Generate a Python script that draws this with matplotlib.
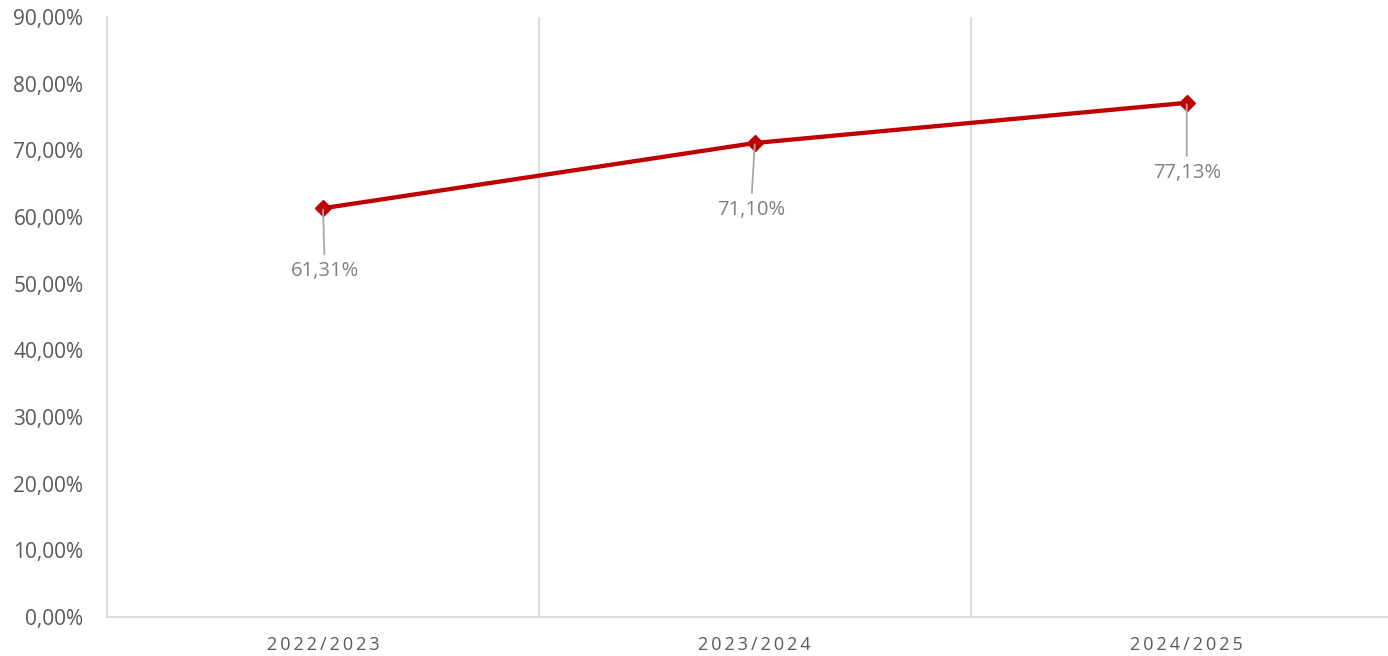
import matplotlib.pyplot as plt
from matplotlib.ticker import FuncFormatter

plt.rcParams['font.family'] = ['Open Sans', 'DejaVu Sans']

years = ['2022/2023', '2023/2024', '2024/2025']
rates = [61.31, 71.10, 77.13]
label_dx = [2, -4, 0]  # pixel nudges for data labels
label_dy = [-63, -67, -70]

fig = plt.figure(figsize=(13.88, 6.56), dpi=100)
ax = fig.add_axes([107 / 1388, 39 / 656, 1 - 107 / 1388, 600 / 656])

x = list(range(len(years)))
ax.plot(x, rates, color='#c00000', lw=3.1, marker='D', ms=8.5, zorder=3)

for i, v in enumerate(rates):
    txt = f'{v:.2f}'.replace('.', ',') + '%'
    ax.annotate(txt, xy=(i, v), xytext=(label_dx[i], label_dy[i]), textcoords='offset pixels',
                ha='center', va='center', fontsize=14.5, color='#808080',
                arrowprops=dict(arrowstyle='-', color='#a6a6a6', lw=1.3, shrinkA=3, shrinkB=1))

ax.set_xlim(-0.5, 2.466)
ax.set_ylim(0, 90)
ax.set_yticks(range(0, 91, 10))
ax.yaxis.set_major_formatter(FuncFormatter(lambda v, p: f'{v:.2f}'.replace('.', ',') + '%'))
ax.set_xticks(x)
ax.set_xticklabels(['\u2009'.join(y) for y in years], fontsize=13, color='#595959')
ax.tick_params(axis='y', labelsize=15, colors='#595959', length=0, pad=17)
ax.tick_params(axis='x', length=0, pad=14)

for b in [0.5, 1.5]:
    ax.axvline(b, color='#d9d9d9', lw=1.3, zorder=1)

for s in ['top', 'right']:
    ax.spines[s].set_visible(False)
ax.spines['left'].set_color('#d9d9d9')
ax.spines['bottom'].set_color('#d9d9d9')
ax.spines['left'].set_linewidth(1.3)
ax.spines['bottom'].set_linewidth(1.3)

fig.savefig('out.png', dpi=100)
